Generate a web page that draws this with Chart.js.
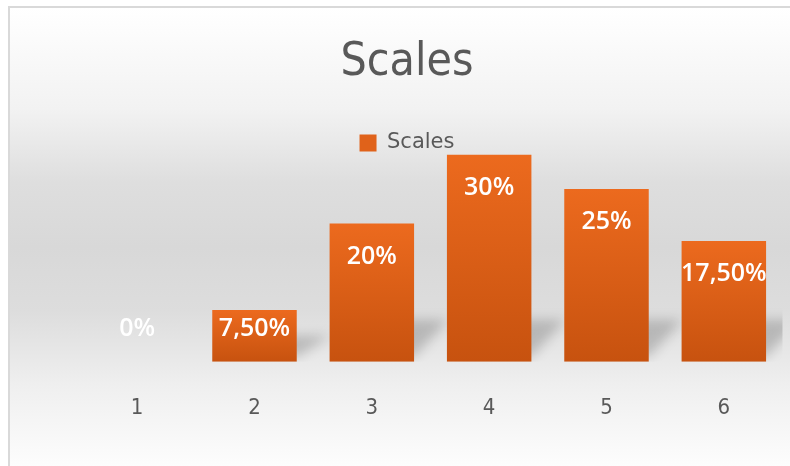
<!DOCTYPE html>
<html>
<head>
<meta charset="utf-8">
<script src="https://cdn.jsdelivr.net/npm/chart.js@4/dist/chart.umd.min.js"></script>
<style>
  html, body { margin: 0; padding: 0; background: #ffffff; }
  #frame {
    position: absolute;
    left: 8px; top: 6px;
    width: 782px; height: 460px;
    border-left: 2px solid #d9d9d9;
    border-top: 2px solid #d9d9d9;
    background: linear-gradient(to bottom, #ffffff 0%, #f2f2f2 22%, #dedede 38%, #d8d8d8 52%, #dddddd 66%, #efefef 82%, #fdfdfd 100%);
  }
  #chart { display: block; }
</style>
</head>
<body>
<div id="frame"><canvas id="chart"></canvas></div>
<script>
// 데이터
const categories = ['1', '2', '3', '4', '5', '6'];
const scalesValues = [0, 7.5, 20, 30, 25, 17.5];   // %
const seriesName = 'Scales';

const TEXT_GRAY = '#595959';
const BAR_TOP = '#ec6a1e';
const BAR_BOTTOM = '#c7520f';

// 7.5 -> "7,50%", 20 -> "20%"
function formatPct(v) {
    return Number.isInteger(v) ? v + '%' : v.toFixed(2).replace('.', ',') + '%';
}

// 막대 아래쪽 그림자
const barShadow = {
    id: 'barShadow',
    beforeDatasetsDraw(chart) {
        const { ctx, chartArea } = chart;
        const meta = chart.getDatasetMeta(0);
        ctx.save();
        ctx.beginPath();
        ctx.rect(chartArea.left, chartArea.top, chartArea.right - chartArea.left, chartArea.bottom - chartArea.top);
        ctx.clip();
        ctx.filter = 'blur(6px)';
        ctx.fillStyle = 'rgba(0, 0, 0, 0.19)';
        meta.data.forEach(bar => {
            const h = bar.base - bar.y;
            if (h < 2) return;
            const half = bar.width / 2;
            const L = bar.x - half, R = bar.x + half;
            const s = Math.min(h * 0.35, 34);
            ctx.beginPath();
            ctx.moveTo(L + 10, bar.base - 5);
            ctx.lineTo(R, bar.base - 5);
            ctx.lineTo(R + 34, bar.base - s - 8);
            ctx.lineTo(L + 34, bar.base - s - 8);
            ctx.closePath();
            ctx.fill();
        });
        ctx.restore();
    }
};

// 막대 안쪽 값 표시
const valueLabels = {
    id: 'valueLabels',
    afterDatasetsDraw(chart) {
        const { ctx } = chart;
        const meta = chart.getDatasetMeta(0);
        ctx.save();
        ctx.font = '600 25px "Open Sans", "DejaVu Sans", sans-serif';
        ctx.fillStyle = '#ffffff';
        ctx.textAlign = 'center';
        ctx.textBaseline = 'middle';
        meta.data.forEach((bar, i) => {
            const y = Math.min(bar.y + 33, bar.base - 33);
            ctx.fillText(formatPct(scalesValues[i]), bar.x, y);
        });
        ctx.restore();
    }
};

new Chart(document.getElementById('chart'), {
    type: 'bar',
    data: {
        labels: categories,
        datasets: [{
            label: seriesName,
            data: scalesValues,
            backgroundColor: (c) => {
                const chart = c.chart;
                if (!chart.chartArea || c.dataIndex === undefined) return BAR_TOP;
                const y = chart.scales.y;
                const top = y.getPixelForValue(scalesValues[c.dataIndex]);
                const base = y.getPixelForValue(0);
                if (base - top < 1) return BAR_TOP;
                const g = chart.ctx.createLinearGradient(0, top, 0, base);
                g.addColorStop(0, BAR_TOP);
                g.addColorStop(1, BAR_BOTTOM);
                return g;
            },
            borderWidth: 0,
            categoryPercentage: 1.0,
            barPercentage: 0.72
        }]
    },
    options: {
        responsive: true,
        maintainAspectRatio: false,
        animation: false,
        layout: {
            padding: { left: 21.5, right: 9.5, top: 0, bottom: 13.4 }
        },
        plugins: {
            title: {
                display: true,
                text: 'Scales',
                color: TEXT_GRAY,
                font: { family: '"DejaVu Sans Condensed", "Liberation Sans Narrow", "DejaVu Sans", sans-serif', size: 46, weight: 'normal' },
                padding: { top: 27.9, bottom: 35.4 }
            },
            legend: {
                display: true,
                position: 'top',
                maxHeight: 28,
                labels: {
                    color: TEXT_GRAY,
                    font: { family: '"DejaVu Sans", sans-serif', size: 21 },
                    boxWidth: 17,
                    boxHeight: 17,
                    padding: 6,
                    generateLabels: () => [{
                        text: seriesName,
                        fillStyle: '#e0621a',
                        strokeStyle: '#e0621a',
                        lineWidth: 0,
                        fontColor: TEXT_GRAY,
                        hidden: false,
                        datasetIndex: 0
                    }]
                }
            },
            tooltip: { enabled: false }
        },
        scales: {
            x: {
                grid: { display: false, drawTicks: false },
                border: { display: false },
                ticks: {
                    color: TEXT_GRAY,
                    padding: 33.2,
                    font: { family: '"DejaVu Sans Condensed", "Liberation Sans Narrow", "DejaVu Sans", sans-serif', size: 22 }
                }
            },
            y: {
                min: 0,
                max: 30,
                grid: { display: false, drawTicks: false },
                border: { display: false },
                ticks: { display: false },
                afterFit: (scale) => { scale.width = 47; }
            }
        }
    },
    plugins: [barShadow, valueLabels]
});
</script>
</body>
</html>
